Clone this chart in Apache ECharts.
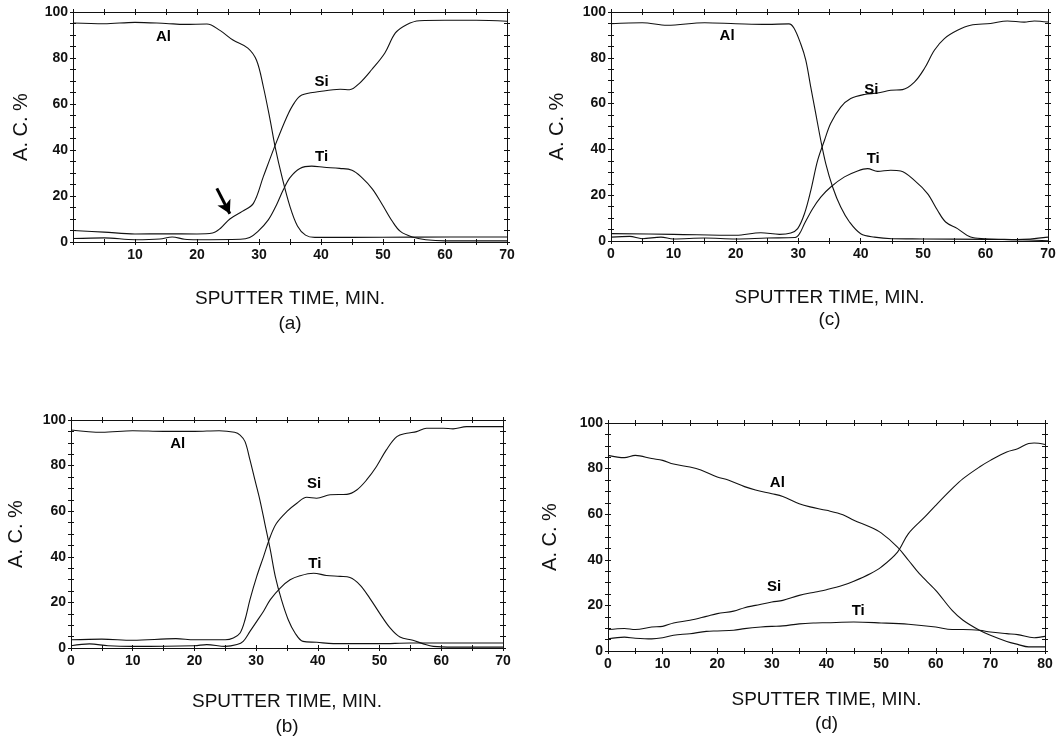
<!DOCTYPE html>
<html>
<head>
<meta charset="utf-8">
<script src="https://cdn.jsdelivr.net/npm/echarts@6/dist/echarts.min.js"></script>
<style>
html,body{margin:0;padding:0;background:#fff;}
#chart{width:1064px;height:740px;}
</style>
</head>
<body>
<div id="chart"></div>
<script>
// ---------- DATA (time in min, atomic concentration %) ----------
const panelIds = ['a', 'b', 'c', 'd'];
const xMaxA = 70, xMaxB = 70, xMaxC = 70, xMaxD = 80;
const yTicks = [0, 20, 40, 60, 80, 100];

// Panel (a)
const alA = [[0,95.2],[5,94.9],[10,95.5],[15,95],[18,94.6],[21.6,94.8],[23.7,92],[25.8,87.8],[28.2,84.3],[29.6,79],[30.7,67.5],[31.8,53],[32.6,41.4],[33.7,28.4],[35,15.4],[36.2,7],[37.5,3],[39,2],[45,2],[55,2.1],[70,2.2]];
const siA = [[0,5],[5,4.3],[10,3.5],[15,3.6],[20,3.5],[22.5,3.9],[23.8,6],[25.3,10],[27.3,13.3],[29.1,16.8],[30.7,28.4],[32.6,42],[34.5,54.5],[35.7,60.5],[36.9,63.9],[39.8,65.4],[43.1,66.4],[44.6,66.2],[46.2,69],[48.2,75],[50.3,82.2],[52,90.9],[53.8,94.5],[55.9,96.2],[60,96.4],[65,96.4],[70,96]];
const tiA = [[0,1.5],[5,1.8],[10,1],[14,1.3],[16,2.2],[18,1.2],[20,1],[27,1.2],[28.5,2],[29.8,4.5],[31.5,9.6],[32.8,16],[33.9,22.6],[35,28],[36.6,32],[38.5,33],[40.5,32.5],[43,32],[45,31.2],[46.6,28],[48.3,23],[49.9,16.2],[51.5,9],[52.8,4.6],[54.7,2.2],[56.9,1],[60,0.5],[70,0.5]];

// Panel (b)
const alB = [[0,95.6],[5,94.6],[10,95.3],[15,95],[20,95],[24,95.3],[26.5,94.6],[27.4,93.4],[28.2,90.5],[29,82.5],[29.8,73.7],[30.6,65],[31.4,54.7],[32.3,43],[33.1,31.4],[34.1,21.2],[35.2,12.4],[36.3,6.6],[37.6,2.9],[39.8,2.5],[42.5,1.9],[50,1.9],[55,2.2],[70,2.2]];
const siB = [[0,3.6],[5,3.9],[10,3.4],[17,4.1],[20,3.6],[25,3.6],[26.3,4.4],[27.4,6.6],[28.2,12.4],[29,21.2],[30.1,31.4],[31.2,40.1],[32.3,48.9],[33.3,54.7],[35,59.9],[36.6,63.5],[38.2,66.1],[39.8,65.7],[42,67.2],[44.7,67.4],[46.3,69.3],[47.9,73.7],[49.5,79.6],[51.1,86.9],[52.8,92.7],[54.4,94.2],[56,94.9],[57.6,96.4],[60.3,96.4],[61.9,96.1],[64.1,97.1],[70,97.1]];
const tiB = [[0,1],[3,1.8],[6,1],[10,0.7],[20,1],[22,1.5],[25,0.7],[26.9,1.5],[27.9,2.9],[29,7.3],[30.1,11.7],[31.2,16.1],[32.3,21.2],[33.9,26.3],[35.5,29.9],[37.1,31.7],[39.3,32.8],[41.4,31.8],[43.6,31.4],[45.2,30.9],[46.8,27.7],[48.4,21.9],[50,15.3],[51.7,8.8],[53.3,4.8],[55.4,3.4],[57.1,1.8],[58.7,0.7],[62,0.4],[70,0.4]];

// Panel (c)
const alC = [[0,94.9],[5,95.3],[9,94.2],[15,95.3],[20,94.9],[25,94.6],[28.5,94.8],[29.3,93],[30.4,86],[31.2,79],[32,67.2],[32.8,55.6],[33.6,44],[34.4,33.8],[35.5,23.6],[36.8,14.8],[38.2,8.3],[40,3.2],[42.2,1.7],[45,1],[50,0.9],[60,0.7],[65,0.6],[70,1.7]];
const siC = [[0,3.2],[10,2.9],[20,2.5],[24,3.6],[27,2.9],[28.8,3.5],[29.9,5.4],[31,12],[32,22],[33.1,35.2],[34.2,44],[35.2,51.4],[36.8,58.5],[38.4,62.2],[40.6,64],[42.7,64.6],[44.8,65.8],[46.7,66.1],[48.6,69.4],[50.2,75.3],[51.8,83.3],[53.4,88.4],[55.5,92],[57.6,94.2],[60.8,95],[63.5,96.1],[66.2,95.6],[67.8,96.1],[70,95.6]];
const tiC = [[0,1.7],[3,2],[5,1],[8,1.7],[10,0.9],[15,1.3],[20,0.9],[25,1.3],[29.5,1.5],[30.2,3.2],[31,7.6],[32.3,14.1],[33.6,19.2],[35.2,23.6],[37.4,28],[39.5,30.6],[41.1,31.6],[42.7,30.4],[44.8,30.9],[46.4,30.6],[48.6,26.5],[50.7,20.7],[52.3,13.4],[53.6,8.3],[55.5,5.4],[57.6,1.7],[59.8,1],[65,0.6],[70,0.1]];

// Panel (d)
const alD = [[0,85.8],[3,84.8],[5,85.8],[8,84.4],[10,83.6],[12,82],[15,80.7],[17,79.4],[20,76.3],[22,75],[25,72.1],[27,70.6],[30,69],[32,67.8],[35,64.6],[37,63.2],[40,61.7],[43,59.8],[45,57.3],[48,54.4],[50,51.8],[53,45.6],[55,39.8],[57,33.9],[60,26.6],[63,17.8],[65,13.5],[68,9.1],[70,6.9],[73,4.2],[75,2.9],[77,1.8],[80,1.8]];
const siD = [[0,9.4],[3,9.9],[5,9.4],[8,10.5],[10,10.8],[12,12.3],[15,13.5],[18,15.2],[20,16.4],[23,17.5],[25,19],[27,20],[30,21.5],[32,22.2],[35,24.4],[38,25.9],[40,26.9],[43,28.8],[45,30.6],[48,33.9],[50,36.8],[53,43.4],[55,51.5],[58,58.8],[60,63.9],[63,71.2],[65,75.6],[68,80.7],[70,83.6],[73,87.3],[75,88.7],[77,91],[78,91.2],[80,90.6]];
const tiD = [[0,5.4],[3,6.1],[5,5.6],[8,5.3],[10,5.8],[12,6.9],[15,7.6],[18,8.6],[20,8.8],[23,9.1],[25,9.8],[28,10.5],[30,10.8],[32,11],[35,11.9],[38,12.3],[40,12.4],[45,12.7],[50,12.3],[55,11.7],[60,10.5],[63,9.4],[65,9.4],[68,9.1],[70,8.3],[73,7.6],[75,7.2],[78,5.8],[80,6.4]];

// curve annotations: [text, time, %]
const labelsA = [['Al',14.6,89],['Si',40.1,69.7],['Ti',40.1,37]];
const labelsB = [['Al',17.3,89.5],['Si',39.4,72],['Ti',39.5,37]];
const labelsC = [['Al',18.6,89.5],['Si',41.7,66],['Ti',42,36]];
const labelsD = [['Al',31,73.7],['Si',30.4,28],['Ti',45.8,17.5]];
// arrow in (a): from [time, %] to [time, %]
const arrowA = [[23.2,23.3],[25.3,12.3]];

const xTitle = 'SPUTTER TIME, MIN.';
const yTitle = 'A. C. %';

// ---------- BUILD ----------
const panels = [
  {id:'a', xMax:xMaxA, al:alA, si:siA, ti:tiA, labels:labelsA, grid:{left:73, top:12, width:434, height:230}, xGap:44, yGap:42, hideZero:true},
  {id:'b', xMax:xMaxB, al:alB, si:siB, ti:tiB, labels:labelsB, grid:{left:71, top:420, width:432, height:228}, xGap:41, yGap:45},
  {id:'c', xMax:xMaxC, al:alC, si:siC, ti:tiC, labels:labelsC, grid:{left:611, top:12, width:437, height:229}, xGap:46, yGap:44, lh:22},
  {id:'d', xMax:xMaxD, al:alD, si:siD, ti:tiD, labels:labelsD, grid:{left:608, top:423, width:437, height:228}, xGap:37, yGap:48, lh:24}
];

const FONT = '"Liberation Sans", Arial, Helvetica, sans-serif';
const INK = '#111';
const grids = [], xAxes = [], yAxes = [], series = [];

panels.forEach((p, gi) => {
  grids.push(Object.assign({containLabel:false}, p.grid));
  const tickCommon = (inside) => ({show:true, inside:inside, length:3, lineStyle:{color:INK, width:1}});
  const minorCommon = (n) => ({show:true, splitNumber:n, length:3, lineStyle:{color:INK, width:1}});
  const mkX = (pos, inside, main) => ({
    type:'value', gridIndex:gi, position:pos, offset:0, min:0, max:p.xMax, interval:10,
    axisLine:{show:true, onZero:false, lineStyle:{color:INK, width:1}},
    axisTick:tickCommon(inside), minorTick:minorCommon(2), splitLine:{show:false}, minorSplitLine:{show:false},
    axisLabel: main ? {show:true, margin:6, color:INK, fontFamily:FONT, fontSize:14, fontWeight:'bold',
      formatter:(v)=> (p.hideZero && v===0) ? '' : String(v)} : {show:false},
    name: main ? xTitle + '\n(' + p.id + ')' : '',
    nameLocation:'middle', nameGap:p.xGap,
    nameTextStyle:{color:INK, fontFamily:FONT, fontSize:19, lineHeight:p.lh || 25}
  });
  const mkY = (pos, inside, main) => ({
    type:'value', gridIndex:gi, position:pos, offset:0, min:0, max:100, interval:20,
    axisLine:{show:true, onZero:false, lineStyle:{color:INK, width:1}},
    axisTick:tickCommon(inside), minorTick:minorCommon(4), splitLine:{show:false}, minorSplitLine:{show:false},
    axisLabel: main ? {show:true, margin:5, color:INK, fontFamily:FONT, fontSize:14, fontWeight:'bold'} : {show:false},
    name: main ? yTitle : '', nameLocation:'middle', nameGap:p.yGap, nameRotate:90,
    nameTextStyle:{color:INK, fontFamily:FONT, fontSize:20}
  });
  const xBase = xAxes.length, yBase = yAxes.length;
  xAxes.push(mkX('bottom', false, true), mkX('bottom', true, false), mkX('top', false, false), mkX('top', true, false));
  yAxes.push(mkY('left', false, true), mkY('left', true, false), mkY('right', false, false), mkY('right', true, false));

  [['Al', p.al], ['Si', p.si], ['Ti', p.ti]].forEach(([nm, d]) => {
    const s = {
      type:'line', name:nm + p.id, xAxisIndex:xBase, yAxisIndex:yBase, data:d,
      showSymbol:false, symbol:'none', smooth:0.35, animation:false, silent:true,
      lineStyle:{color:INK, width:1.1}, z:3
    };
    if (p.id === 'a' && nm === 'Si') {
      s.markLine = {
        silent:true, symbol:['none','arrow'], symbolSize:[11,13], animation:false,
        lineStyle:{color:'#000', width:3, type:'solid'}, label:{show:false},
        data:[[{coord:arrowA[0]}, {coord:arrowA[1]}]]
      };
    }
    series.push(s);
  });
  series.push({
    type:'scatter', xAxisIndex:xBase, yAxisIndex:yBase, symbol:'rect', symbolSize:2, animation:false, silent:true,
    itemStyle:{color:'#fff', opacity:0}, z:5,
    data:p.labels.map(l => [l[1], l[2], l[0]]),
    label:{show:true, position:[1,1], align:'center', verticalAlign:'middle', formatter:(o)=>o.value[2], color:'#000', opacity:1,
      textBorderWidth:0, fontFamily:FONT, fontSize:15, fontWeight:'bold'}
  });
});

const chart = echarts.init(document.getElementById('chart'), null, {renderer:'canvas'});
chart.setOption({
  backgroundColor:'#fff', animation:false,
  grid:grids, xAxis:xAxes, yAxis:yAxes, series:series
});
</script>
</body>
</html>
